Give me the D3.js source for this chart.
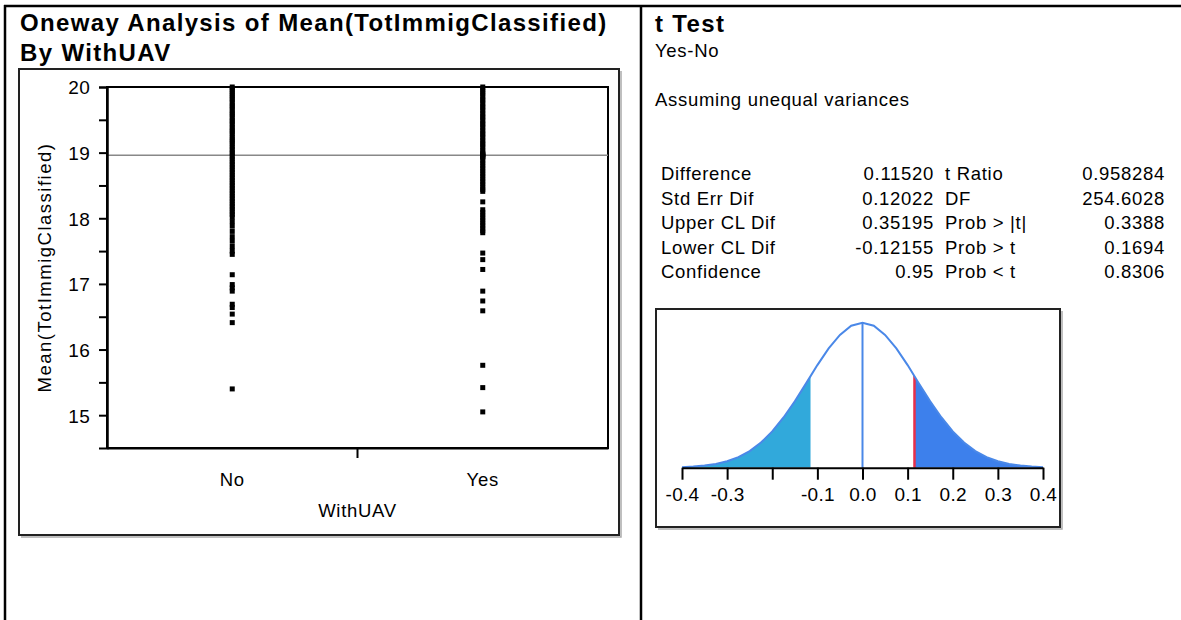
<!DOCTYPE html>
<html>
<head>
<meta charset="utf-8">
<script src="https://cdn.jsdelivr.net/npm/d3@7"></script>
<style>
  body { margin: 0; background: #fff; }
  svg { display: block; font-family: "Liberation Sans", Arial, sans-serif; }
  .txt { font-size: 18.5px; letter-spacing: 0.7px; fill: #000; }
  .num { font-size: 19px; letter-spacing: 0.3px; fill: #000; }
  .head { font-size: 24px; font-weight: bold; letter-spacing: 1.35px; fill: #000; }
  .ylab { letter-spacing: 1.5px; }
</style>
</head>
<body>
<div id="chart"></div>
<script>
// oneway plot data
var groups = ['No', 'Yes'];
var noMeans = [20.00, 19.97, 19.94, 19.90, 19.87, 19.83, 19.80, 19.76, 19.72, 19.69, 19.65, 19.61,
  19.58, 19.54, 19.50, 19.47, 19.43, 19.39, 19.35, 19.32, 19.28, 19.24, 19.20, 19.17, 19.13, 19.09,
  19.05, 19.01, 18.98, 18.94, 18.90, 18.86, 18.82, 18.78, 18.74, 18.70, 18.66, 18.62, 18.58, 18.54,
  18.50, 18.46, 18.42, 18.38, 18.34, 18.30, 18.26, 18.22, 18.18, 18.14, 18.10, 18.06, 18.02,
  17.95, 17.88, 17.80, 17.72, 17.65, 17.57, 17.50, 17.45, 17.14, 16.99, 16.94, 16.89, 16.69,
  16.64, 16.54, 16.41, 15.40];
var yesMeans = [20.00, 19.97, 19.93, 19.90, 19.86, 19.82, 19.79, 19.75, 19.71, 19.68, 19.64, 19.60,
  19.56, 19.53, 19.49, 19.45, 19.42, 19.38, 19.34, 19.30, 19.27, 19.23, 19.19, 19.15, 19.12, 19.08,
  19.04, 19.00, 18.98, 18.97, 18.96, 18.95, 18.94, 18.92, 18.88, 18.84, 18.80, 18.76, 18.72, 18.68,
  18.64, 18.60, 18.56, 18.52, 18.48, 18.44, 18.41, 18.25, 18.13, 18.09, 18.05, 18.01, 17.97, 17.93,
  17.89, 17.85, 17.81, 17.78, 17.47, 17.37, 17.22, 16.89, 16.74, 16.59, 15.76, 15.42, 15.05];
var grandMean = 18.96;
var yTicks = [15, 16, 17, 18, 19, 20];
var yMinorTicks = [15.5, 16.5, 17.5, 18.5, 19.5];

// t test report
var testLabels = ['Difference', 'Std Err Dif', 'Upper CL Dif', 'Lower CL Dif', 'Confidence'];
var testValues = ['0.11520', '0.12022', '0.35195', '-0.12155', '0.95'];
var statLabels = ['t Ratio', 'DF', 'Prob > |t|', 'Prob > t', 'Prob < t'];
var statValues = ['0.958284', '254.6028', '0.3388', '0.1694', '0.8306'];

// t distribution picture (density)
var diff = 0.11520;
var densX = [-0.4, -0.375, -0.35, -0.325, -0.3, -0.275, -0.25, -0.225, -0.2, -0.175, -0.15, -0.125,
  -0.1, -0.075, -0.05, -0.025, 0, 0.025, 0.05, 0.075, 0.1, 0.125, 0.15, 0.175, 0.2, 0.225, 0.25,
  0.275, 0.3, 0.325, 0.35, 0.375, 0.4];
var densY = [0.013, 0.026, 0.048, 0.086, 0.147, 0.243, 0.38, 0.576, 0.83, 1.15, 1.52, 1.93,
  2.35, 2.73, 3.04, 3.25, 3.32, 3.25, 3.04, 2.73, 2.35, 1.93, 1.52, 1.15, 0.83, 0.576, 0.38,
  0.243, 0.147, 0.086, 0.048, 0.026, 0.013];
var distTicks = [-0.4, -0.3, -0.2, -0.1, 0, 0.1, 0.2, 0.3, 0.4];
var distTickLabels = ['-0.4', '-0.3', '', '-0.1', '0.0', '0.1', '0.2', '0.3', '0.4'];

var W = 1181, H = 620;
var svg = d3.select('#chart').append('svg')
  .attr('width', W)
  .attr('height', H);

function label(g, x, y, s, cls, anchor) {
  return g.append('text')
    .attr('x', x)
    .attr('y', y)
    .attr('class', cls || 'txt')
    .attr('text-anchor', anchor || 'start')
    .text(s);
}

// outer frame of the report
svg.append('line').attr('x1', 4).attr('x2', W).attr('y1', 6).attr('y2', 6)
  .style('stroke', '#000').style('stroke-width', 2.5);
svg.append('line').attr('x1', 5).attr('x2', 5).attr('y1', 5).attr('y2', H)
  .style('stroke', '#000').style('stroke-width', 2.5);
svg.append('line').attr('x1', 641).attr('x2', 641).attr('y1', 5).attr('y2', H)
  .style('stroke', '#000').style('stroke-width', 2.5);

function shadowBox(x0, y0, x1, y1) {
  svg.append('path')
    .attr('d', `M${x0 + 2},${y1 + 2}H${x1 + 2}V${y0 + 2}`)
    .style('fill', 'none').style('stroke', '#aaa').style('stroke-width', 1.5);
  svg.append('rect')
    .attr('x', x0).attr('y', y0).attr('width', x1 - x0).attr('height', y1 - y0)
    .style('fill', 'none').style('stroke', '#222').style('stroke-width', 2);
}

// ---------- left panel ----------
label(svg, 20, 31, 'Oneway Analysis of Mean(TotImmigClassified)', 'head');
label(svg, 20, 61, 'By WithUAV', 'head');
shadowBox(19, 69, 619, 535);

var plot = {left: 107, right: 608, top: 87, bottom: 448};

var x = d3.scaleBand()
  .domain(groups)
  .range([plot.left, plot.right]);

var y = d3.scaleLinear()
  .domain([14.5, 20])
  .range([plot.bottom, plot.top]);

svg.append('rect')
  .attr('x', plot.left).attr('y', plot.top)
  .attr('width', plot.right - plot.left).attr('height', plot.bottom - plot.top)
  .style('fill', 'none').style('stroke', '#000').style('stroke-width', 2);

svg.append('line')
  .attr('x1', plot.left).attr('x2', plot.right)
  .attr('y1', y(grandMean)).attr('y2', y(grandMean))
  .style('stroke', '#888').style('stroke-width', 1.5);

var gY = svg.append('g')
  .attr('transform', `translate(${plot.left},0)`)
  .call(d3.axisLeft(y).tickValues(yTicks).tickSize(8).tickSizeOuter(0).tickPadding(9)
    .tickFormat(d3.format('d')));
gY.append('g')
  .call(d3.axisLeft(y).tickValues(yMinorTicks).tickSize(8).tickFormat(''));
gY.selectAll('path').style('stroke', '#000').style('stroke-width', 2);
gY.selectAll('line').style('stroke', '#000').style('stroke-width', 2);
gY.selectAll('text').attr('class', 'num').attr('dy', '0.36em');
gY.attr('font-size', null).attr('font-family', null);
gY.selectAll('g').attr('font-size', null).attr('font-family', null);

var gX = svg.append('g')
  .attr('transform', `translate(0,${plot.bottom})`)
  .call(d3.axisBottom(x).tickSize(0).tickSizeOuter(0).tickPadding(25));
gX.select('.domain').style('stroke', '#000').style('stroke-width', 2);
gX.selectAll('text').attr('class', 'txt').attr('dy', '0.71em');
gX.attr('font-size', null).attr('font-family', null);

// tick between the two groups
svg.append('line')
  .attr('x1', x('Yes')).attr('x2', x('Yes'))
  .attr('y1', plot.bottom).attr('y2', plot.bottom + 10)
  .style('stroke', '#000').style('stroke-width', 2);

label(svg, (plot.left + plot.right) / 2, 517, 'WithUAV', 'txt', 'middle');
label(svg, 0, 0, 'Mean(TotImmigClassified)', 'txt ylab', 'middle')
  .attr('transform', `translate(51,${(plot.top + plot.bottom) / 2}) rotate(-90)`);

var pts = [];
noMeans.forEach(v => pts.push({g: 'No', v: v}));
yesMeans.forEach(v => pts.push({g: 'Yes', v: v}));
var sz = 5;
svg.selectAll('.pt')
  .data(pts)
  .enter().append('rect')
    .attr('class', 'pt')
    .attr('x', d => x(d.g) + x.bandwidth() / 2 - sz / 2)
    .attr('y', d => y(d.v) - sz / 2)
    .attr('width', sz)
    .attr('height', sz)
    .style('fill', '#000');

// ---------- right panel ----------
label(svg, 655, 32, 't Test', 'head');
label(svg, 655, 57, 'Yes-No');
label(svg, 655, 106, 'Assuming unequal variances');

var rowY = d3.scaleLinear().domain([0, 4]).range([180, 278]);
testLabels.forEach((s, i) => {
  label(svg, 661, rowY(i), s);
  label(svg, 934, rowY(i), testValues[i], 'txt', 'end');
  label(svg, 945, rowY(i), statLabels[i]);
  label(svg, 1165, rowY(i), statValues[i], 'txt', 'end');
});

shadowBox(656, 309, 1060, 527);

var xd = d3.scaleLinear().domain([-0.4, 0.4]).range([682, 1043]);
var yd = d3.scaleLinear().domain([0, 3.32]).range([467.7, 322.7]);
var dens = densX.map((v, i) => ({x: v, y: densY[i]}));

var area = d3.area().x(d => xd(d.x)).y0(yd(0)).y1(d => yd(d.y));
var line = d3.line().x(d => xd(d.x)).y(d => yd(d.y));

svg.append('clipPath').attr('id', 'under')
  .append('path').attr('d', area(dens));

var under = svg.append('g').attr('clip-path', 'url(#under)');
under.append('rect')
  .attr('x', xd(-0.4)).attr('y', yd(3.4))
  .attr('width', xd(-diff) - xd(-0.4)).attr('height', yd(0) - yd(3.4))
  .style('fill', '#31a9db');
under.append('rect')
  .attr('x', xd(diff)).attr('y', yd(3.4))
  .attr('width', xd(0.4) - xd(diff)).attr('height', yd(0) - yd(3.4))
  .style('fill', '#3d80ec');
under.append('line')
  .attr('x1', xd(0)).attr('x2', xd(0)).attr('y1', yd(0)).attr('y2', yd(3.4))
  .style('stroke', '#4a88e8').style('stroke-width', 2);
under.append('line')
  .attr('x1', xd(diff)).attr('x2', xd(diff)).attr('y1', yd(0)).attr('y2', yd(3.4))
  .style('stroke', '#e8304a').style('stroke-width', 2.5);

svg.append('path')
  .datum(dens)
  .attr('d', line)
  .style('fill', 'none')
  .style('stroke', '#4a88e8')
  .style('stroke-width', 2);

var gD = svg.append('g')
  .attr('transform', `translate(0,${yd(0)})`)
  .call(d3.axisBottom(xd).tickValues(distTicks).tickSize(12).tickSizeOuter(0).tickPadding(8)
    .tickFormat((d, i) => distTickLabels[i]));
gD.select('.domain').style('stroke', '#000').style('stroke-width', 2);
gD.selectAll('line').style('stroke', '#000').style('stroke-width', 2);
gD.selectAll('text').attr('class', 'num').attr('dy', '0.71em');
gD.attr('font-size', null).attr('font-family', null);
</script>
</body>
</html>
